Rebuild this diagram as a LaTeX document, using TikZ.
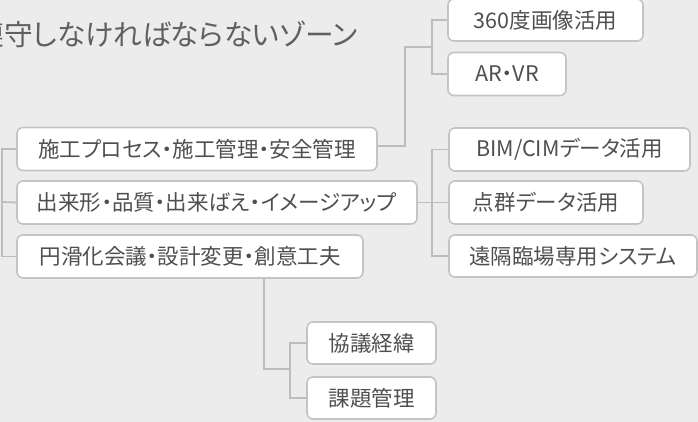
\documentclass[tikz,border=0pt]{standalone}
\usepackage{fontspec}
\setmainfont{Noto Sans CJK JP}[RawFeature=+palt]
\definecolor{bgc}{HTML}{ECECEC}
\definecolor{boxc}{HTML}{C4C4C4}
\definecolor{linec}{HTML}{BDBDBD}
\definecolor{txtc}{HTML}{4F4F4F}
\definecolor{titc}{HTML}{606060}
\tikzset{
  itembox/.style={draw=boxc, line width=1.6pt, fill=white, rounded corners=6pt,
    inner sep=0pt, text=txtc, font=\fontsize{21.5}{24}\selectfont, minimum height=43pt},
  conn/.style={draw=linec, line width=1.8pt},
}
\begin{document}
\begin{tikzpicture}[x=1pt,y=-1pt]
\fill[bgc] (0,0) rectangle (698,422);
\useasboundingbox (0,0) rectangle (698,422);
\clip (0,0) rectangle (698,422);

\node[anchor=east, inner sep=0pt, text=titc, font=\fontsize{28.7}{32}\selectfont] (title) at (358,34) {遵守しなければならないゾーン};

% junction coordinates
\coordinate (L) at (2,202);
\coordinate (ja) at (405,47);
\coordinate (j1) at (432,47);
\coordinate (j2) at (432,202);
\coordinate (d1) at (264,369);
\coordinate (j3) at (290,369);

\node[itembox, minimum width=195pt, minimum height=42pt] (n360) at (545.5,20) {360度画像活用};
\node[itembox, minimum width=118pt] (nar) at (507,74) {AR・VR};
\node[itembox, minimum width=360pt] (ns) at (197,149) {施工プロセス・施工管理・安全管理};
\node[itembox, minimum width=400pt] (nd) at (217,202.5) {出来形・品質・出来ばえ・イメージアップ};
\node[itembox, minimum width=346pt] (ne) at (190,256.5) {円滑化会議・設計変更・創意工夫};
\node[itembox, minimum width=241pt] (nb) at (569.5,149.5) {BIM/CIMデータ活用};
\node[itembox, minimum width=194pt] (np) at (546,202.5) {点群データ活用};
\node[itembox, minimum width=248pt, minimum height=42pt] (nr) at (573,256) {遠隔臨場専用システム};
\node[itembox, minimum width=129pt, minimum height=42pt] (nk) at (371.5,343) {協議経緯};
\node[itembox, minimum width=129pt, minimum height=42pt] (nt) at (371.5,398) {課題管理};

\draw[conn] (ns.west) -| (L) |- (ne.west);
\draw[conn] (nd.west) -- (L);
\draw[conn] ([yshift=3pt]ns.east) -| (ja) -- (j1);
\draw[conn] (n360.west) -| (j1) |- (nar.west);
\draw[conn] (nd.east) -- (np.west);
\draw[conn] (nb.west) -| (j2) |- (nr.west);
\draw[conn] (ne.south -| d1) |- (j3);
\draw[conn] (nk.west) -| (j3) |- (nt.west);
\end{tikzpicture}
\end{document}
